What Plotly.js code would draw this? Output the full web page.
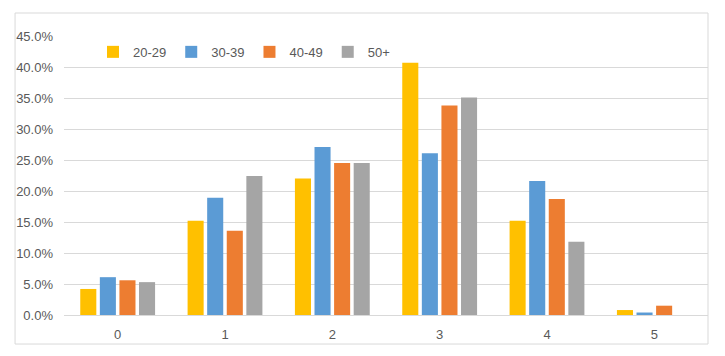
<!DOCTYPE html>
<html>
<head>
<meta charset="utf-8">
<script src="https://cdn.plot.ly/plotly-3.0.1.min.js"></script>
<style>html,body{margin:0;padding:0;background:#fff;}#chart{width:725px;height:356px;}</style>
</head>
<body>
<div id="chart"></div>
<script>
const categories = ["0", "1", "2", "3", "4", "5"];
const seriesNames = ["20-29", "30-39", "40-49", "50+"];
const age20_29 = [0.042, 0.152, 0.220, 0.407, 0.152, 0.008];
const age30_39 = [0.061, 0.189, 0.271, 0.261, 0.216, 0.004];
const age40_49 = [0.056, 0.136, 0.245, 0.338, 0.187, 0.015];
const age50plus = [0.053, 0.224, 0.245, 0.351, 0.118, 0.0];
const yTickVals = [0, 0.05, 0.10, 0.15, 0.20, 0.25, 0.30, 0.35, 0.40, 0.45];

const colors = ["#FFC000", "#5B9BD5", "#ED7D31", "#A5A5A5"];
const values = [age20_29, age30_39, age40_49, age50plus];

const traces = values.map((v, i) => ({
  type: "bar",
  name: seriesNames[i],
  x: categories,
  y: v,
  marker: { color: colors[i], line: { width: 0 } },
  hoverinfo: "x+y+name"
}));

const font = { family: "Liberation Sans, Arial, sans-serif", size: 13, color: "#595959" };

const layout = {
  width: 725,
  height: 356,
  margin: { l: 64, r: 17, t: 36, b: 41, pad: 0 },
  paper_bgcolor: "#ffffff",
  plot_bgcolor: "#ffffff",
  font: font,
  barmode: "group",
  bargap: 0.27,
  bargroupgap: 0.18,
  showlegend: true,
  legend: {
    orientation: "h",
    x: 0.045,
    xanchor: "left",
    y: 0.943,
    yanchor: "middle",
    font: font,
    bgcolor: "rgba(0,0,0,0)",
    itemwidth: 30
  },
  xaxis: {
    type: "category",
    categoryorder: "array",
    categoryarray: categories,
    showgrid: false,
    showline: true,
    linecolor: "#D9D9D9",
    linewidth: 1,
    ticks: "",
    tickfont: font,
    ticklabelstandoff: 7,
    zeroline: false,
    fixedrange: true
  },
  yaxis: {
    range: [0, 0.45],
    tickvals: yTickVals,
    tickformat: ".1%",
    showgrid: true,
    gridcolor: "#D9D9D9",
    gridwidth: 1,
    zeroline: false,
    showline: false,
    ticks: "",
    tickfont: font,
    ticklabelstandoff: 10,
    fixedrange: true
  },
  shapes: [{
    type: "rect",
    xref: "paper", yref: "paper",
    x0: -0.076, x1: 1.0,
    y0: -0.104, y1: 1.0824,
    line: { color: "#D9D9D9", width: 1 },
    fillcolor: "rgba(0,0,0,0)",
    layer: "below"
  }]
};

Plotly.newPlot("chart", traces, layout, { displayModeBar: false, staticPlot: true });
</script>
</body>
</html>
